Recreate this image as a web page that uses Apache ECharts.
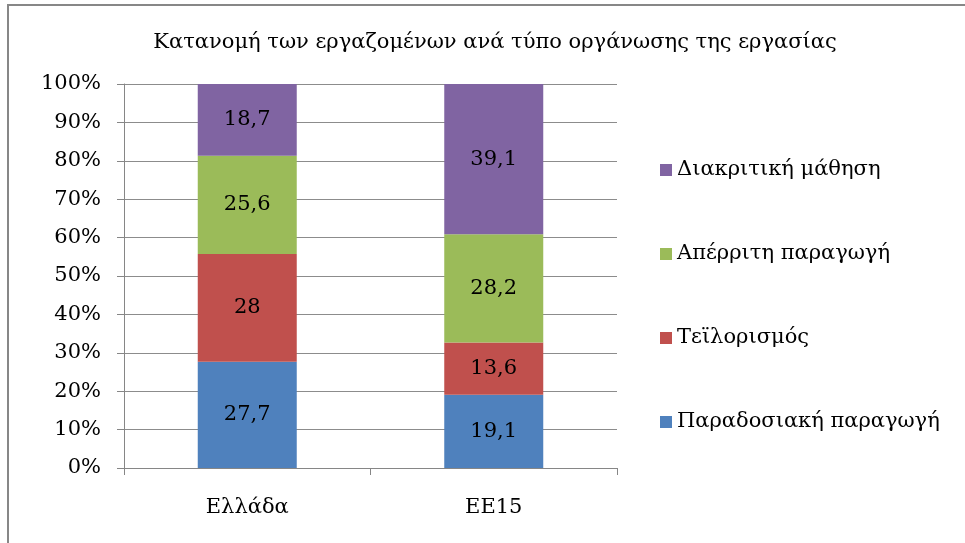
<!DOCTYPE html>
<html>
<head>
<meta charset="utf-8">
<script src="https://cdn.jsdelivr.net/npm/echarts@6/dist/echarts.min.js"></script>
<style>
html,body{margin:0;padding:0;background:#fff;}
#main{width:965px;height:543px;}
</style>
</head>
<body>
<div id="main"></div>
<script>
var categories = ['Ελλάδα', 'ΕΕ15'];
var seriesNames = ['Παραδοσιακή παραγωγή', 'Τεϊλορισμός', 'Απέρριτη παραγωγή', 'Διακριτική μάθηση'];
var paradosiaki = [27.7, 19.1];
var teilorismos = [28, 13.6];
var aperriti = [25.6, 28.2];
var diakritiki = [18.7, 39.1];
var yTicks = [0, 10, 20, 30, 40, 50, 60, 70, 80, 90, 100];

var colors = ['#4F81BD', '#C0504D', '#9BBB59', '#8064A2'];
var font = "'DejaVu Serif', 'Liberation Serif', serif";

var myChart = echarts.init(document.getElementById('main'));

function makeSeries(name, data){
	return {
		name: name,
		type: 'bar',
		stack: 'total',
		barWidth: 99,
		data: data,
		label: {
			show: true,
			position: 'inside',
			color: '#000',
			fontFamily: font,
			fontSize: 21,
			formatter: function(p){ return String(p.value).replace('.', ','); }
		},
		emphasis: {disabled: true}
	};
}

var option = {
	color: colors,
	animation: false,
	title: {
		text: 'Κατανομή των εργαζομένων ανά τύπο οργάνωσης της εργασίας',
		left: 490,
		textAlign: 'center',
		top: 27,
		textStyle: {fontFamily: font, fontSize: 21, fontWeight: 'normal', color: '#000'}
	},
	legend: {
		orient: 'vertical',
		left: 655,
		top: 153,
		itemWidth: 12,
		itemHeight: 12,
		itemGap: 60,
		icon: 'rect',
		data: seriesNames.slice().reverse(),
		textStyle: {fontFamily: font, fontSize: 21, color: '#000', lineHeight: 24}
	},
	grid: {left: 124, right: 348, top: 84, bottom: 75},
	xAxis: {
		type: 'category',
		data: categories,
		axisLine: {lineStyle: {color: '#868686', width: 1}},
		axisTick: {show: true, length: 7, lineStyle: {color: '#868686'}},
		axisLabel: {margin: 29, fontFamily: font, fontSize: 21, color: '#000'}
	},
	yAxis: {
		type: 'value',
		min: yTicks[0],
		max: yTicks[yTicks.length - 1],
		interval: 10,
		axisLine: {show: true, lineStyle: {color: '#868686', width: 1}},
		axisTick: {show: true, length: 7, lineStyle: {color: '#868686'}},
		axisLabel: {margin: 23, fontFamily: font, fontSize: 21, color: '#000', formatter: '{value}%'},
		splitLine: {lineStyle: {color: '#8c8c8c', width: 1}}
	},
	graphic: [{
		type: 'rect',
		shape: {x: 8, y: 5, width: 1100, height: 700},
		style: {fill: 'none', stroke: '#878787', lineWidth: 2},
		silent: true
	}],
	series: [
		makeSeries(seriesNames[0], paradosiaki),
		makeSeries(seriesNames[1], teilorismos),
		makeSeries(seriesNames[2], aperriti),
		makeSeries(seriesNames[3], diakritiki)
	]
};
myChart.setOption(option);

window.addEventListener("resize",function(){
	myChart.resize();
});
</script>
</body>
</html>
